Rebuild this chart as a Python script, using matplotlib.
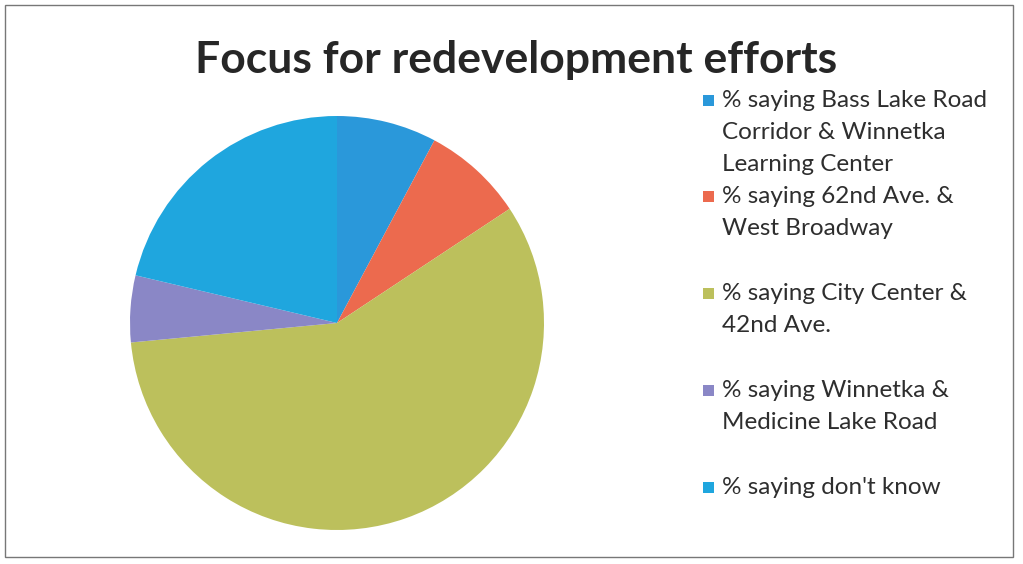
import matplotlib
matplotlib.use("Agg")
import matplotlib.pyplot as plt
from matplotlib.patches import Rectangle

# survey shares (percent), clockwise from 12 o'clock
labels = [
    "% saying Bass Lake Road\nCorridor & Winnetka\nLearning Center",
    "% saying 62nd Ave. &\nWest Broadway",
    "% saying City Center &\n42nd Ave.",
    "% saying Winnetka &\nMedicine Lake Road",
    "% saying don't know",
]
values = [7.8, 7.9, 57.8, 5.2, 21.3]
colors = ["#2a98da", "#ec6a4e", "#bcc05c", "#8a87c6", "#1fa6de"]

plt.rcParams['font.family'] = ['Lato', 'DejaVu Sans']

W, H = 1023, 564
fig = plt.figure(figsize=(W / 100, H / 100), dpi=100)
fig.patch.set_facecolor("white")

# pie, centre about (337, 323) px, radius about 207 px
cx, cy, r = 337, 323, 207
ax = fig.add_axes([(cx - r) / W, (H - cy - r) / H, 2 * r / W, 2 * r / H])
ax.pie(values, colors=colors, startangle=90, counterclock=False,
       wedgeprops=dict(linewidth=0))
ax.set_xlim(-1, 1)
ax.set_ylim(-1, 1)
ax.set_aspect("equal")

fig.text(516 / W, 1 - 60 / H, "Focus for redevelopment efforts",
         ha="center", va="center", fontsize=32, fontweight="bold", color="#262626")

# legend, laid out by hand like the original
y_first = [100, 196, 293, 390, 487]
for lab, col, yy in zip(labels, colors, y_first):
    fig.text(722 / W, 1 - (yy - 10) / H, lab, ha="left", va="top",
             fontsize=17.5, color="#2e2e2e", linespacing=1.65)
    fig.patches.append(Rectangle((703 / W, 1 - (yy + 6) / H), 11 / W, 11 / H,
                                 transform=fig.transFigure, facecolor=col,
                                 edgecolor="none"))

# outer frame
fig.patches.append(Rectangle((5 / W, 7 / H), 1008 / W, 552 / H,
                             transform=fig.transFigure, fill=False,
                             edgecolor="#777777", linewidth=1.0))

fig.savefig("out.png", dpi=100)
